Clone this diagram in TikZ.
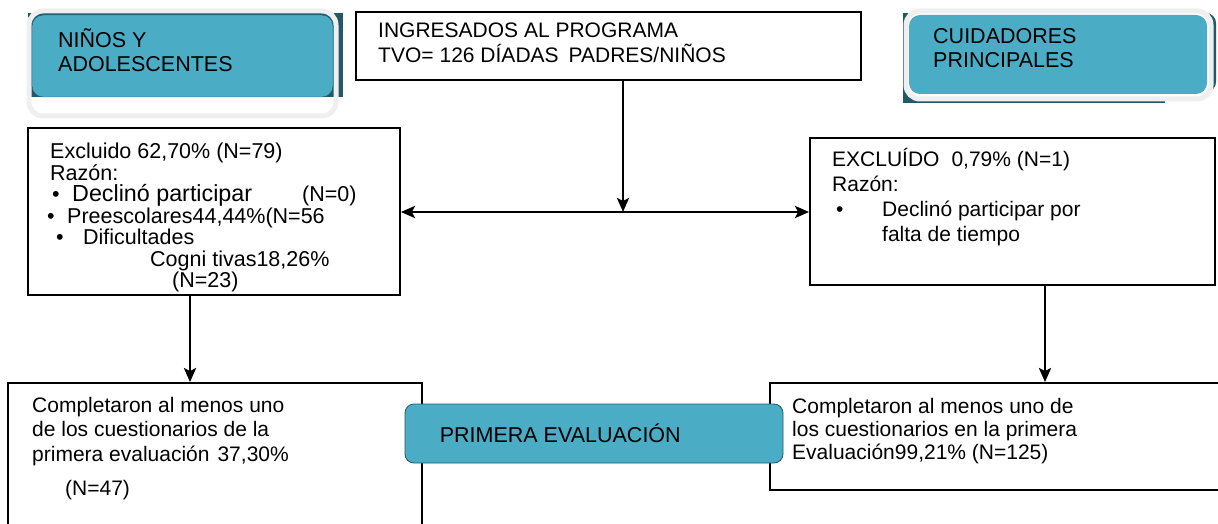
\documentclass[tikz,border=0pt]{standalone}
\usepackage{fontspec}
\setmainfont{Liberation Sans}
\usetikzlibrary{positioning,arrows.meta}

\definecolor{tealbox}{HTML}{4BACC6}
\definecolor{tealdark}{HTML}{215968}
\definecolor{framegray}{HTML}{EFEFEF}

\begin{document}
\begin{tikzpicture}[x=1pt,y=-1pt,
    >={Stealth[length=14pt,width=12pt,inset=3pt]},
    box/.style={draw, line width=1.8pt, inner sep=0pt},
    txt/.style={align=left, inner sep=0pt, anchor=north west, font=\fontsize{21}{23}\selectfont},
    head/.style={align=left, inner sep=0pt, anchor=north west, font=\fontsize{21.5}{24}\selectfont},
    flow/.style={line width=2.8pt, ->}]

    \useasboundingbox (0,0) rectangle (1218,524);

    % cabeceras
    \fill[tealdark] (28,13) rectangle (343,97);
    \draw[framegray, line width=5pt, rounded corners=14pt] (29,11) rectangle (336,116);
    \draw[tealdark, fill=tealbox, rounded corners=11pt] (32,15) rectangle (333,97);
    \node[head] (headN) at (58,28) {NIÑOS Y\\ADOLESCENTES};

    \fill[tealdark] (903,13) rectangle (1165,103);
    \fill[tealdark, rounded corners=10pt] (903,13) rectangle (1216,92);
    \draw[framegray, fill=white, line width=5pt, rounded corners=14pt] (906,11) rectangle (1211,99);
    \fill[tealbox, rounded corners=11pt] (909,15) rectangle (1207,94);
    \node[head] (headC) at (933,28) {CUIDADORES\\PRINCIPALES};

    % cajas
    \node[box, minimum width=505pt, minimum height=68pt] (ingr)  at (608.5,46) {};
    \node[box, minimum width=372pt, minimum height=167pt] (exclN) at (214,211.5) {};
    \node[box, minimum width=405pt, minimum height=147pt] (exclC) at (1012.5,211.5) {};
    \node[box, minimum width=414pt, minimum height=160pt] (compN) at (215,463) {};
    \node[box, minimum width=460pt, minimum height=107pt] (compC) at (1000,436.5) {};

    \node[txt, font=\fontsize{21}{25}\selectfont] (ingrtxt) at (378,23)
        {INGRESADOS AL PROGRAMA\\TVO=\hspace{6pt}126 DÍADAS\hspace{10pt}PADRES/NIÑOS};

    \node[txt, font=\fontsize{21.5}{21.5}\selectfont] (exclNtxt) at (50,143)
        {Excluido 62,70\% (N=79)\\
         Razón:\\
         \hspace*{2pt}\makebox[20pt][l]{\textbullet}\makebox[230pt][l]{\fontsize{23.3}{22}\selectfont Declinó participar}(N=0)\\
         \hspace*{-3pt}\makebox[20pt][l]{\textbullet}Preescolares44,44\%(N=56\\
         \hspace*{6pt}\makebox[27pt][l]{\textbullet}Dificultades\\
         \hspace*{100pt}Cogni tivas18,26\%\\
         \hspace*{122pt}(N=23)};

    \node[txt, font=\fontsize{21}{25}\selectfont] (exclCtxt) at (832,148)
        {EXCLUÍDO\hspace{12pt}0,79\% (N=1)\\
         Razón:\\
         \hspace*{4pt}\makebox[46pt][l]{\textbullet}Declinó participar por\\
         \hspace*{50pt}falta de tiempo};

    \node[txt, font=\fontsize{21}{24.5}\selectfont] (compNtxt) at (32,397)
        {Completaron al menos uno\\
         de los cuestionarios de la\\
         primera evaluación\hspace{8pt}37,30\%\\[10pt]
         \hspace*{33pt}(N=47)};

    \node[txt, font=\fontsize{21}{23}\selectfont] (compCtxt) at (792,398)
        {Completaron al menos uno de\\
         los cuestionarios en la primera\\
         Evaluación99,21\% (N=125)};

    \node[box, draw=tealdark, line width=0.8pt, fill=tealbox, rounded corners=9pt,
          minimum width=378pt, minimum height=59pt] (primera) at (594,433.5) {};
    \node[head, anchor=west, right=35pt of primera.west] (primeratxt) {PRIMERA EVALUACIÓN};

    % flechas
    \coordinate (split) at (623,212);
    \draw[flow] (ingr.south -| split) -- (split);
    \draw[flow, <->] (exclN.east |- split) -- (exclC.west |- split);
    \draw[flow] ([xshift=-24pt]exclN.south) -- ([xshift=-24pt]exclN.south |- compN.north);
    \draw[flow] ([xshift=32.5pt]exclC.south) -- ([xshift=32.5pt]exclC.south |- compC.north);

\end{tikzpicture}
\end{document}
